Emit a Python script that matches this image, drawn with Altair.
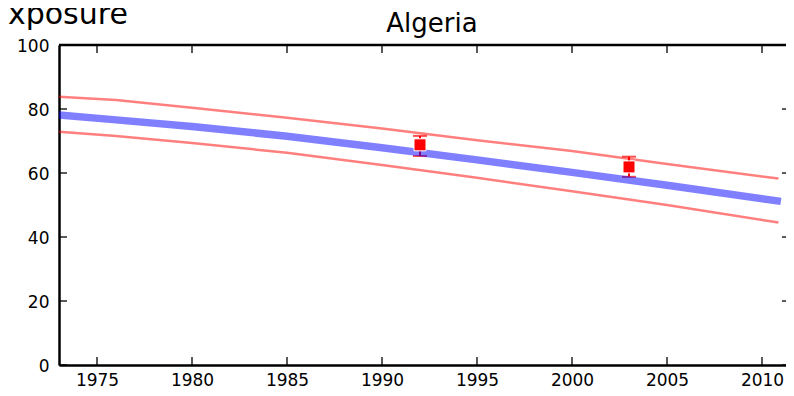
import altair as alt
import pandas as pd

# ---- data ----
years = [1973, 1976, 1980, 1985, 1990, 1995, 2000, 2005, 2010.8]
central = [78.1, 76.6, 74.5, 71.5, 67.9, 64.1, 60.2, 56.2, 51.3]
upper = [83.8, 82.8, 80.4, 77.3, 73.9, 70.2, 66.9, 62.8, 58.3]
lower = [72.9, 71.6, 69.4, 66.3, 62.5, 58.5, 54.3, 50.0, 44.6]

obs_years = [1992, 2003]
obs_values = [68.8, 61.9]
obs_low = [65.3, 58.8]
obs_high = [71.6, 65.1]

x_ticks = [1975, 1980, 1985, 1990, 1995, 2000, 2005, 2010]
y_ticks = [0, 20, 40, 60, 80, 100]

title_text = ["Algeria"]
ylabel_text = ["Exposure"]

FONT = "DejaVu Sans"
W, H = 727, 320

lines_df = pd.DataFrame({"year": years, "central": central, "upper": upper, "lower": lower})
obs_df = pd.DataFrame({"year": obs_years, "value": obs_values, "low": obs_low, "high": obs_high})
xt_df = pd.DataFrame({"t": x_ticks})
yt_df = pd.DataFrame({"t": y_ticks})

xscale = alt.Scale(domain=[1973, 2011.5], range=[0, 731.5], nice=False, zero=False)
yscale = alt.Scale(domain=[0, 100], nice=False)

xaxis = alt.Axis(values=x_ticks, format="d", title=None, grid=False, ticks=False, tickSize=0,
                 domain=True, domainColor="black", domainWidth=2.5,
                 labelFont=FONT, labelFontSize=17, labelColor="black", labelPadding=7,
                 labelFlush=False, labelOverlap=False)
yaxis = alt.Axis(values=y_ticks, title=None, grid=False, ticks=False, tickSize=0,
                 domain=True, domainColor="black", domainWidth=2.5,
                 labelFont=FONT, labelFontSize=17, labelColor="black", labelPadding=10,
                 labelOffset=1.5, labelFlush=False, labelOverlap=False)

def X(field):
    return alt.X(field, type="quantitative", scale=xscale, axis=xaxis)

def Y(field):
    return alt.Y(field, type="quantitative", scale=yscale, axis=yaxis)

base = alt.Chart(lines_df)

upper_line = base.mark_line(color="red", opacity=0.5, strokeWidth=2.5, strokeCap="square", clip=True).encode(
    x=X("year"), y=Y("upper"))
lower_line = base.mark_line(color="red", opacity=0.5, strokeWidth=2.5, strokeCap="square", clip=True).encode(
    x=X("year"), y=Y("lower"))

err = alt.Chart(obs_df).mark_rule(color="red", strokeWidth=2).encode(
    x=X("year"), y=Y("low"), y2="high")
cap_hi = alt.Chart(obs_df).mark_tick(color="red", orient="horizontal", size=14, thickness=2).encode(
    x=X("year"), y=Y("high"))
cap_lo = alt.Chart(obs_df).mark_tick(color="red", orient="horizontal", size=14, thickness=2).encode(
    x=X("year"), y=Y("low"))

central_line = base.mark_line(color="blue", opacity=0.5, strokeWidth=7.5, strokeCap="square", clip=True).encode(
    x=X("year"), y=Y("central"))

squares = alt.Chart(obs_df).mark_square(color="red", filled=True, size=144, opacity=1,
                                         stroke="white", strokeWidth=1).encode(
    x=X("year"), y=Y("value"))

# spines and inward ticks
top_spine = alt.Chart(yt_df.head(1)).mark_rule(color="black", strokeWidth=2.5).encode(
    x=alt.value(0), x2=alt.value(W), y=alt.value(0))
xt_bottom = alt.Chart(xt_df).mark_rule(color="black", strokeWidth=1.3).encode(
    x=X("t"), y=alt.value(H), y2=alt.value(H - 8))
xt_top = alt.Chart(xt_df).mark_rule(color="black", strokeWidth=1.3).encode(
    x=X("t"), y=alt.value(0), y2=alt.value(8))
yt_left = alt.Chart(yt_df).mark_rule(color="black", strokeWidth=1.3).encode(
    y=Y("t"), x=alt.value(0), x2=alt.value(8))
yt_right = alt.Chart(yt_df).mark_rule(color="black", strokeWidth=1.3).encode(
    y=Y("t"), x=alt.value(W - 4), x2=alt.value(W))

title = alt.Chart(pd.DataFrame({"s": title_text})).mark_text(
    font=FONT, fontSize=26, color="black", align="center", baseline="alphabetic").encode(
    text="s:N", x=alt.value(373), y=alt.value(-13))
ylabel = alt.Chart(pd.DataFrame({"s": ylabel_text})).mark_text(
    font=FONT, fontSize=30, color="black", align="left", baseline="alphabetic").encode(
    text="s:N", x=alt.value(-70), y=alt.value(-21))

chart = alt.layer(
    upper_line, lower_line, err, cap_hi, cap_lo, central_line, squares,
    top_spine, xt_bottom, xt_top, yt_left, yt_right, title, ylabel
).properties(
    width=W, height=H,
    autosize=alt.AutoSizeParams(type="none"),
    padding={"left": 51, "top": 37, "right": 0, "bottom": 23},
).configure_view(strokeWidth=0).configure(background="white")

chart.save("out.html", embed_options={"renderer": "svg", "actions": False})
